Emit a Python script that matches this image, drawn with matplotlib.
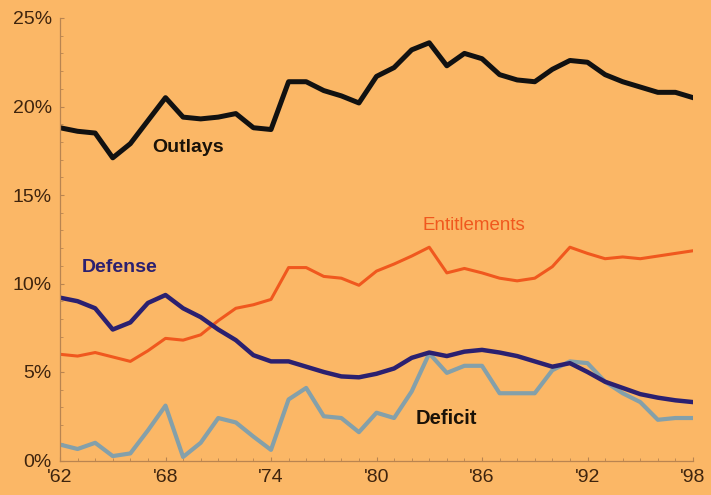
import matplotlib
matplotlib.use("Agg")
import matplotlib.pyplot as plt
import numpy as np

# spending as % of GDP, fiscal years 1962-1998
years = np.arange(1962, 1999)
outlays = [18.8, 18.6, 18.5, 17.1, 17.9, 19.2, 20.5, 19.4, 19.3, 19.4, 19.6, 18.8,
           18.7, 21.4, 21.4, 20.9, 20.6, 20.2, 21.7, 22.2, 23.2, 23.6, 22.3, 23.0,
           22.7, 21.8, 21.5, 21.4, 22.1, 22.6, 22.5, 21.8, 21.4, 21.1, 20.8, 20.8, 20.5]
entitlements = [6.0, 5.9, 6.1, 5.85, 5.6, 6.2, 6.9, 6.8, 7.1, 7.9, 8.6, 8.8,
                9.1, 10.9, 10.9, 10.4, 10.3, 9.9, 10.7, 11.1, 11.55, 12.05, 10.6, 10.85,
                10.6, 10.3, 10.15, 10.3, 10.95, 12.05, 11.7, 11.4, 11.5, 11.4, 11.55, 11.7, 11.85]
defense = [9.2, 9.0, 8.6, 7.4, 7.8, 8.9, 9.35, 8.6, 8.1, 7.4, 6.8, 5.95,
           5.6, 5.6, 5.3, 5.0, 4.75, 4.7, 4.9, 5.2, 5.8, 6.1, 5.9, 6.15,
           6.25, 6.1, 5.9, 5.6, 5.3, 5.5, 5.0, 4.45, 4.1, 3.75, 3.55, 3.4, 3.3]
deficit = [0.9, 0.65, 1.0, 0.25, 0.4, 1.7, 3.1, 0.2, 1.0, 2.4, 2.15, 1.35,
           0.6, 3.45, 4.1, 2.5, 2.4, 1.6, 2.7, 2.4, 3.9, 6.05, 4.95, 5.35,
           5.35, 3.8, 3.8, 3.8, 5.1, 5.6, 5.5, 4.45, 3.8, 3.3, 2.3, 2.4, 2.4]

major_years = [1962, 1968, 1974, 1980, 1986, 1992, 1998]
year_labels = ["'62", "'68", "'74", "'80", "'86", "'92", "'98"]
pct_ticks = [0, 5, 10, 15, 20, 25]
pct_labels = ["0%", "5%", "10%", "15%", "20%", "25%"]

bg = "#FBB766"
axis_col = "#B98450"
text_col = "#3E240E"
plt.rcParams["font.family"] = ["Liberation Sans", "DejaVu Sans"]

fig = plt.figure(figsize=(7.11, 4.95), dpi=100)
fig.patch.set_facecolor(bg)
ax = fig.add_axes([60 / 711, 1 - 460.5 / 495, 633 / 711, 442.5 / 495])
ax.set_facecolor(bg)

ax.plot(years, deficit, color="#84A0AA", lw=3.0)
ax.plot(years, entitlements, color="#F0581E", lw=2.2)
ax.plot(years, defense, color="#2B2070", lw=3.2)
ax.plot(years, outlays, color="#111111", lw=3.6)

ax.text(1969.3, 17.7, "Outlays", color="#1A1208", fontsize=14, fontweight="bold",
        ha="center", va="center")
ax.text(1985.55, 13.3, "Entitlements", color="#F0581E", fontsize=13.5,
        ha="center", va="center")
ax.text(1965.4, 10.9, "Defense", color="#2B2070", fontsize=14, fontweight="bold",
        ha="center", va="center")
ax.text(1983.95, 2.4, "Deficit", color="#1A1208", fontsize=14.5, fontweight="bold",
        ha="center", va="center")

ax.set_xlim(1962, 1998)
ax.set_ylim(0, 25)
ax.set_xticks(major_years)
ax.set_xticklabels(year_labels)
ax.set_xticks(years, minor=True)
ax.set_yticks(pct_ticks)
ax.set_yticklabels(pct_labels)
ax.set_yticks(np.arange(0, 26, 1), minor=True)

for s in ["top", "right"]:
    ax.spines[s].set_visible(False)
for s in ["left", "bottom"]:
    ax.spines[s].set_color(axis_col)
    ax.spines[s].set_linewidth(0.9)

ax.tick_params(axis="both", which="both", colors=axis_col, labelcolor=text_col,
               labelsize=14, direction="in")
ax.tick_params(axis="both", which="major", length=3)
ax.tick_params(axis="both", which="minor", length=2)
ax.tick_params(axis="y", pad=6)
ax.tick_params(axis="x", pad=6)

fig.savefig("out.png", dpi=100, facecolor=bg)
